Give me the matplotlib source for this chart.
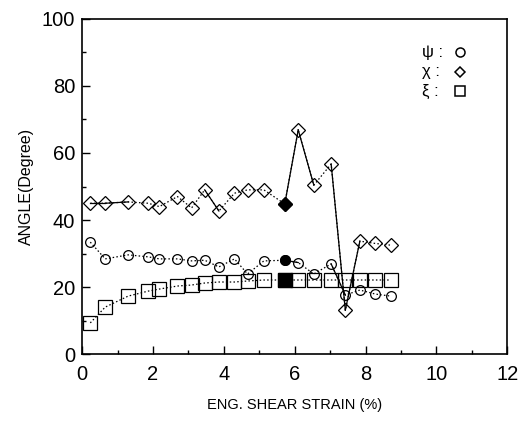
"""
Angle vs engineering shear strain (psi, chi, xi).
"""

import matplotlib.pyplot as plt
from matplotlib.ticker import MultipleLocator

plt.rcParams["font.family"] = ["Liberation Sans", "DejaVu Sans"]

strain = [0.23, 0.65, 1.3, 1.87, 2.18, 2.69, 3.09, 3.46, 3.86, 4.3,
          4.67, 5.13, 5.72, 6.1, 6.54, 7.03, 7.43, 7.84, 8.28, 8.71]
psi = [33.4, 28.4, 29.6, 29.0, 28.4, 28.4, 27.8, 28.0, 26.0, 28.4,
       23.9, 27.8, 28.0, 27.3, 23.9, 26.9, 17.6, 19.1, 17.9, 17.3]
chi = [45.0, 45.0, 45.4, 45.0, 44.0, 47.0, 43.6, 49.0, 42.7, 48.0,
       49.0, 49.0, 44.8, 66.9, 50.4, 56.7, 13.1, 33.7, 33.0, 32.5]
xi = [9.3, 14.0, 17.3, 18.8, 19.4, 20.3, 20.6, 21.2, 21.5, 21.5,
      21.8, 22.1, 22.1, 22.1, 22.1, 22.1, 22.1, 22.1, 22.1, 22.1]
filled_idx = 12  # the solid (black) point in each series

# segments drawn with a solid line (start index); the rest are dotted
psi_solid = [12, 15]
chi_solid = [0, 1, 7, 12, 13, 15, 16]
xi_solid = []

fig = plt.figure(figsize=(5.30, 4.21), dpi=100)
ax = fig.add_axes([0.155, 0.159, 0.802, 0.796])


def draw_series(y, marker, ms, solid):
    ax.plot(strain, y, ls=(0, (1.2, 1.8)), lw=0.9, color="black", zorder=2)
    for i in solid:
        ax.plot(strain[i:i + 2], y[i:i + 2], ls="-", lw=0.9, color="black", zorder=2)
    ax.plot(strain, y, ls="none", marker=marker, ms=ms, mfc="none",
            mec="black", mew=0.9, zorder=3)
    ax.plot(strain[filled_idx], y[filled_idx], ls="none", marker=marker, ms=ms,
            mfc="black", mec="black", mew=0.9, zorder=4)


draw_series(psi, "o", 7, psi_solid)
draw_series(chi, "D", 7.5, chi_solid)
draw_series(xi, "s", 10, xi_solid)

ax.set_xlim(0, 12)
ax.set_ylim(0, 100)
ax.xaxis.set_major_locator(MultipleLocator(2))
ax.xaxis.set_minor_locator(MultipleLocator(1))
ax.yaxis.set_major_locator(MultipleLocator(20))
ax.yaxis.set_minor_locator(MultipleLocator(10))
ax.tick_params(which="both", direction="in", labelsize=14.5, width=1)
ax.tick_params(which="major", length=6)
ax.tick_params(axis="x", which="major", pad=8)
ax.tick_params(axis="y", which="major", pad=5)
ax.tick_params(which="minor", length=3)
for s in ax.spines.values():
    s.set_linewidth(1.2)

ax.set_xlabel("ENG. SHEAR STRAIN (%)", fontsize=10.5, labelpad=10)
ax.set_ylabel("ANGLE(Degree)", fontsize=11.5, labelpad=6)

# symbol key
keys = [("ψ", "o", 6.5), ("χ", "D", 5.5), ("ξ", "s", 7)]
for k, (name, marker, ms) in enumerate(keys):
    yk = 0.90 - k * 0.058
    ax.text(0.80, yk, name + " :", transform=ax.transAxes, fontsize=12,
            va="center", ha="left")
    ax.plot(0.89, yk, transform=ax.transAxes, marker=marker, ms=ms, mfc="none",
            mec="black", mew=1.1, ls="none")

fig.savefig("out.png", dpi=100)
